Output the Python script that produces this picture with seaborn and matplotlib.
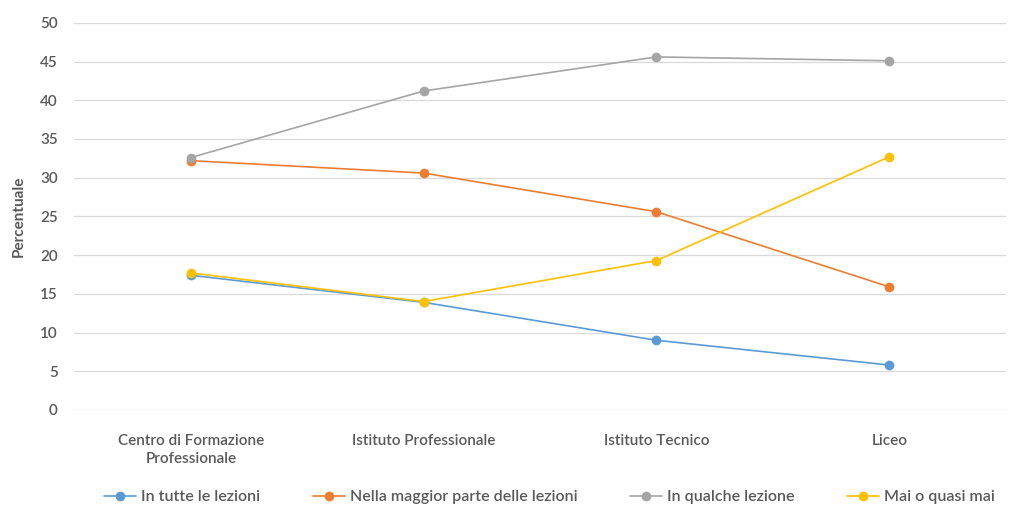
import numpy as np
import pandas as pd
import matplotlib
matplotlib.use("Agg")
import matplotlib.pyplot as plt
import seaborn as sns

# DATI
categorie = ["Centro di Formazione\nProfessionale", "Istituto Professionale", "Istituto Tecnico", "Liceo"]
serie = ["In tutte le lezioni", "Nella maggior parte delle lezioni", "In qualche lezione", "Mai o quasi mai"]
in_tutte = [17.4, 13.9, 9.0, 5.8]
maggior_parte = [32.2, 30.6, 25.6, 15.9]
qualche = [32.6, 41.2, 45.6, 45.1]
mai = [17.7, 14.0, 19.3, 32.7]
colori = ["#5B9BD5", "#ED7D31", "#A5A5A5", "#FFC000"]

valori = [in_tutte, maggior_parte, qualche, mai]
rows = []
for nome, vals in zip(serie, valori):
    for i, v in enumerate(vals):
        rows.append({"pos": i, "serie": nome, "valore": v})
df = pd.DataFrame(rows)

sns.set_style("white")
plt.rcParams['font.family'] = ['Lato', 'DejaVu Sans']
testo = "#595959"

fig, ax = plt.subplots(figsize=(10.2, 5.08), dpi=100)
fig.subplots_adjust(left=0.073, right=0.986, top=0.955, bottom=0.193)

sns.lineplot(data=df, x="pos", y="valore", hue="serie", palette=colori,
             marker="o", markersize=7, markeredgewidth=0, linewidth=1.2,
             ax=ax, legend=True)

ax.set_xlim(-0.5, 3.5)
ax.set_ylim(0, 50)
ax.set_yticks(np.arange(0, 51, 5))
ax.set_xticks(range(len(categorie)))
ax.set_xticklabels(categorie, fontsize=11, color=testo, fontweight="semibold", linespacing=1.4)
for t in ax.get_yticklabels():
    t.set_fontweight("semibold")
ax.tick_params(axis="y", labelsize=11, colors=testo, length=0, pad=12)
ax.tick_params(axis="x", length=0, pad=17)
ax.yaxis.grid(True, color="#D9D9D9", linewidth=0.9)
ax.set_axisbelow(True)
for s in ax.spines.values():
    s.set_visible(False)
ax.set_xlabel("")
ax.set_ylabel("Percentuale", fontsize=11, fontweight="bold", color=testo, labelpad=10)

handles, labels = ax.get_legend_handles_labels()
ax.legend(handles, labels, loc="center", bbox_to_anchor=(0.51, -0.225), ncol=4,
          frameon=False, labelcolor=testo, handlelength=2.0,
          columnspacing=3.3, handletextpad=0.3,
          prop={"weight": "semibold", "size": 11.5})

fig.savefig("out.png", dpi=100)
